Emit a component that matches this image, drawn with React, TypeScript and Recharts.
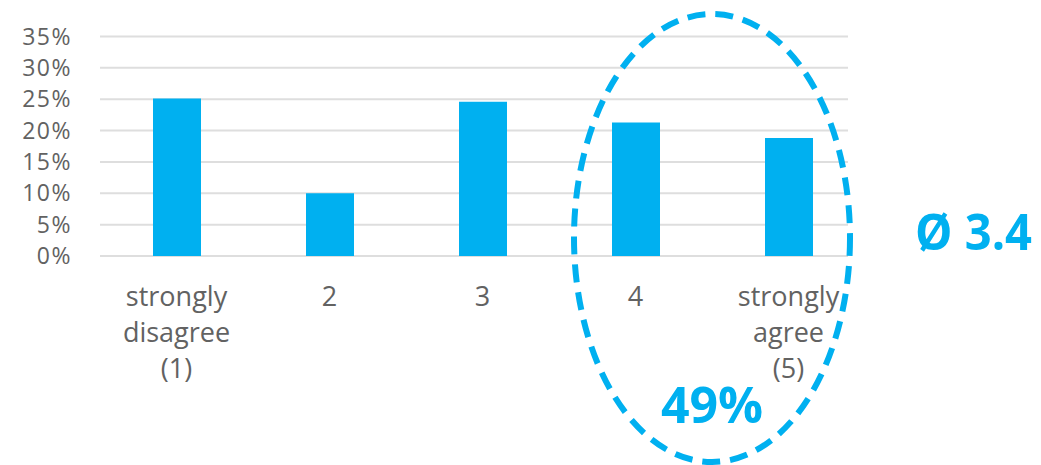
import { BarChart, Bar, XAxis, YAxis, CartesianGrid } from 'recharts';

const categories = ['strongly\ndisagree\n(1)', '2', '3', '4', 'strongly\nagree\n(5)'];
const shares = [25.1, 10.0, 24.6, 21.3, 18.8];
const yTicks = [0, 5, 10, 15, 20, 25, 30, 35];
const topTwoLabel = '49%';
const meanLabel = 'Ø 3.4';

const data = categories.map((c, i) => ({ name: c, share: shares[i] }));

const BLUE = '#00B0F0';
const GREY = '#626262';
const FONT = '"Open Sans", "DejaVu Sans", sans-serif';

// multi-line category labels, split on \n
function CategoryTick(props: any) {
  const { x, y, payload } = props;
  const lines = String(payload.value).split('\n');
  return (
    <text x={x} y={y + 50} textAnchor="middle" fill={GREY} fontSize={27} fontFamily={FONT}>
      {lines.map((l, i) => (
        <tspan key={i} x={x} dy={i === 0 ? 0 : 36}>
          {l}
        </tspan>
      ))}
    </text>
  );
}

export default function App() {
  return (
    <div style={{ position: 'absolute', left: 0, top: 0, width: 1041, height: 465, background: '#fff' }}>
      <BarChart
        width={1041}
        height={465}
        data={data}
        margin={{ top: 36.5, right: 176, left: 0, bottom: 0 }}
      >
        <CartesianGrid vertical={false} stroke="#dedede" strokeWidth={2} width={748} />
        <XAxis
          dataKey="name"
          axisLine={false}
          tickLine={false}
          tickSize={0}
          tickMargin={0}
          height={209}
          interval={0}
          tick={<CategoryTick />}
        />
        <YAxis
          domain={[0, 35]}
          ticks={yTicks}
          interval={0}
          tickFormatter={(v: number) => `${v}%`}
          axisLine={false}
          tickLine={false}
          tickSize={0}
          tickMargin={28}
          width={100}
          tick={{ fill: GREY, fontSize: 23, fontFamily: FONT, letterSpacing: 1.5 }}
        />
        <Bar dataKey="share" fill={BLUE} barSize={48} isAnimationActive={false} />
      </BarChart>
      <svg
        width={1041}
        height={465}
        style={{ position: 'absolute', left: 0, top: 0, pointerEvents: 'none' }}
      >
        <ellipse
          cx={712}
          cy={238}
          rx={138}
          ry={224}
          fill="none"
          stroke={BLUE}
          strokeWidth={6}
          strokeDasharray="18 10"
        />
        <text x={712} y={423} textAnchor="middle" fill={BLUE} fontSize={50} fontWeight={700} fontFamily={FONT}>
          {topTwoLabel}
        </text>
        <text
          x={915}
          y={250}
          fill={BLUE}
          fontSize={50}
          fontWeight={700}
          fontFamily={FONT}
          textLength={117}
          lengthAdjust="spacingAndGlyphs"
        >
          {meanLabel}
        </text>
      </svg>
    </div>
  );
}
